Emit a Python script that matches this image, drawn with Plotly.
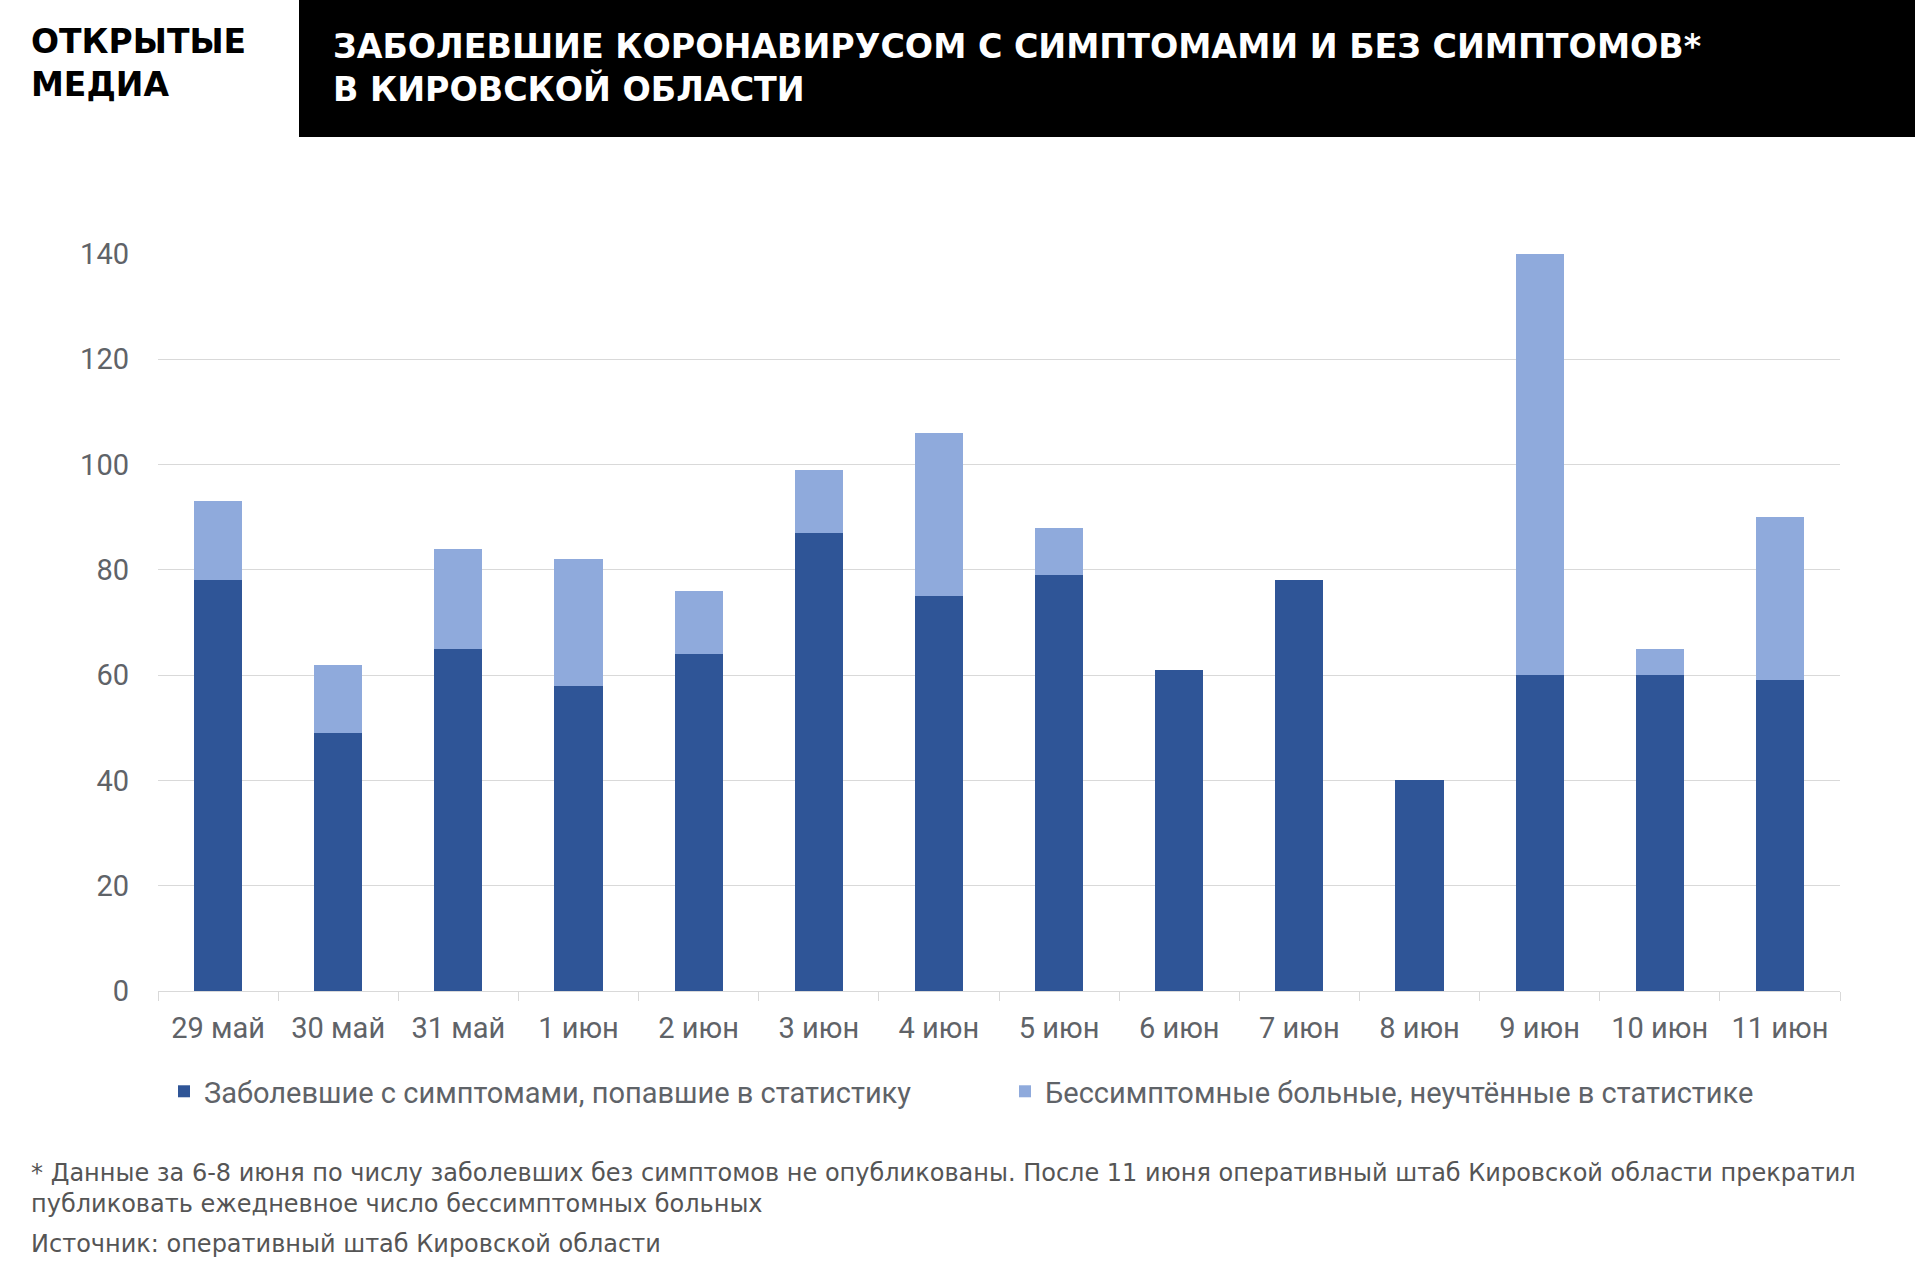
import plotly.graph_objects as go

categories = ["29 май", "30 май", "31 май", "1 июн", "2 июн", "3 июн", "4 июн",
              "5 июн", "6 июн", "7 июн", "8 июн", "9 июн", "10 июн", "11 июн"]
with_symptoms = [78, 49, 65, 58, 64, 87, 75, 79, 61, 78, 40, 60, 60, 59]
without_symptoms = [15, 13, 19, 24, 12, 12, 31, 9, 0, 0, 0, 80, 5, 31]
y_ticks = [0, 20, 40, 60, 80, 100, 120, 140]

name_sym = "Заболевшие с симптомами, попавшие в статистику"
name_asym = "Бессимптомные больные, неучтённые в статистике"
title_text = "ЗАБОЛЕВШИЕ КОРОНАВИРУСОМ С СИМПТОМАМИ И БЕЗ СИМПТОМОВ*<br>В КИРОВСКОЙ ОБЛАСТИ"
logo_text = "ОТКРЫТЫЕ<br>МЕДИА"
note_text = ("* Данные за 6-8 июня по числу заболевших без симптомов не опубликованы. "
             "После 11 июня оперативный штаб Кировской области прекратил<br>"
             "публиковать ежедневное число бессимптомных больных")
source_text = "Источник: оперативный штаб Кировской области"

W, H = 1915, 1275
L, R, T, B = 158, 1840, 254, 991.5


def px(x):
    return (x - L) / (R - L)


def py(y):
    return (B - y) / (B - T)


DARK = "#2f5597"
LIGHT = "#8faadc"
TICK_COL = "#5f6368"
GRID = "#d9d9d9"
FS = 29

fig = go.Figure()
fig.add_trace(go.Bar(x=categories, y=with_symptoms, name=name_sym, marker_color=DARK,
                     marker_line_width=0, legend="legend"))
fig.add_trace(go.Bar(x=categories, y=without_symptoms, name=name_asym, marker_color=LIGHT,
                     marker_line_width=0, legend="legend2"))

legend_common = dict(orientation="h", yanchor="middle", xanchor="left",
                     font=dict(size=FS, color=TICK_COL, family="Roboto"),
                     itemclick=False, bgcolor="rgba(0,0,0,0)")

fig.update_layout(
    width=W, height=H,
    barmode="stack", bargap=0.6,
    plot_bgcolor="white", paper_bgcolor="white",
    margin=dict(l=L, r=W - R, t=T, b=H - B, pad=0),
    font=dict(family="Roboto", color=TICK_COL),
    legend=dict(x=px(164), y=py(1092), **legend_common),
    legend2=dict(x=px(1005), y=py(1092), **legend_common),
    showlegend=True,
)
fig.update_xaxes(
    type="category", showgrid=False, showline=True, linecolor=GRID, linewidth=1,
    ticks="outside", tickson="boundaries", ticklen=9, tickcolor=GRID,
    ticklabelstandoff=11,
    tickfont=dict(size=FS, color=TICK_COL, family="Roboto"),
)
fig.update_yaxes(
    range=[0, 140], tickvals=y_ticks, showgrid=True, gridcolor=GRID, gridwidth=1,
    zeroline=False, showline=False, ticks="", ticklabelstandoff=28,
    tickfont=dict(size=FS, color=TICK_COL, family="Roboto"),
)

fig.add_shape(type="rect", xref="paper", yref="paper",
              x0=px(299), x1=px(W + 5), y0=py(137), y1=py(-5),
              fillcolor="black", line_width=0, layer="above")

fig.add_annotation(xref="paper", yref="paper", x=px(331), y=py(68),
                   xanchor="left", yanchor="middle", align="left", showarrow=False,
                   text=title_text,
                   font=dict(family="DejaVu Sans", size=33.3, color="white", weight="bold"))
fig.add_annotation(xref="paper", yref="paper", x=px(29), y=py(63),
                   xanchor="left", yanchor="middle", align="left", showarrow=False,
                   text=logo_text,
                   font=dict(family="DejaVu Sans", size=33, color="black", weight="bold"))
fig.add_annotation(xref="paper", yref="paper", x=px(29), y=py(1189.5),
                   xanchor="left", yanchor="middle", align="left", showarrow=False,
                   text=note_text,
                   font=dict(family="DejaVu Sans", size=24, color="#555555"))
fig.add_annotation(xref="paper", yref="paper", x=px(29), y=py(1244.5),
                   xanchor="left", yanchor="middle", align="left", showarrow=False,
                   text=source_text,
                   font=dict(family="DejaVu Sans", size=24, color="#555555"))

fig.write_html("out.html")
